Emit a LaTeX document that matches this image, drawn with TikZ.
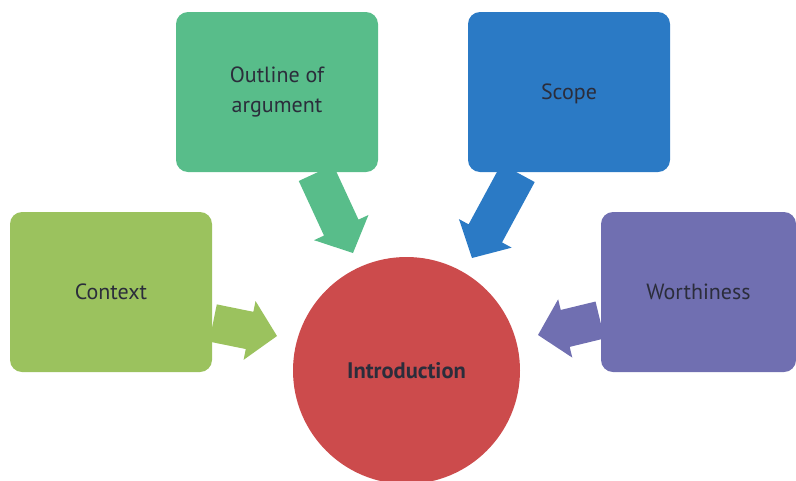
\documentclass[tikz,border=0pt]{standalone}
\usepackage{fontspec}
\setmainfont{PT Sans}
\usetikzlibrary{calc}

\definecolor{ctxgreen}{HTML}{9BC25E}
\definecolor{outgreen}{HTML}{58BD8A}
\definecolor{scpblue}{HTML}{2B7AC5}
\definecolor{worpurple}{HTML}{706FB1}
\definecolor{introred}{HTML}{CC4B4C}
\definecolor{txt}{HTML}{2B2D3B}

\tikzset{
	box/.style={rounded corners=12pt, minimum width=202pt, minimum height=160pt, inner sep=0pt, text=txt, align=center, font=\fontsize{22}{30}\selectfont}
}

% Block arrow from #1 to #2, filled with #3
\newcommand{\fatarrow}[3]{%
	\coordinate (hb) at ($(#2)!28pt!(#1)$);
	\fill[#3] ($(#1)!19pt!90:(#2)$) -- ($(hb)!19pt!90:(#2)$) -- ($(hb)!30pt!90:(#2)$) -- (#2)
		-- ($(hb)!30pt!-90:(#2)$) -- ($(hb)!19pt!-90:(#2)$) -- ($(#1)!19pt!-90:(#2)$) -- cycle;
}

\begin{document}
\begin{tikzpicture}[x=1pt, y=-1pt]
		\useasboundingbox (0,0) rectangle (796,480);
		\clip (0,0) rectangle (796,480);
		
		% Draw boxes
		\node[box, fill=ctxgreen] (Ctx) at (111,292) {Context};
		\node[box, fill=outgreen] (Out) at (277,92) {Outline of\\argument};
		\node[box, fill=scpblue, text depth=0pt] (Scp) at (569,92) {Scope};
		\node[box, fill=worpurple, minimum width=195pt] (Wor) at (698.5,292) {Worthiness};
		
		% Draw circle
		\node[circle, fill=introred, minimum size=227pt, text=txt, font=\fontsize{22.5}{30}\selectfont\bfseries] (Intro) at (406.5,370.5) {Introduction};
		
		% Define coordinates
		\coordinate (C1) at (213,323);
		\coordinate (C2) at (277,336);
		\coordinate (O1) at (316,173);
		\coordinate (O2) at (353,253);
		\coordinate (S1) at (518,173);
		\coordinate (S2) at (472,258);
		\coordinate (W1) at (600,320);
		\coordinate (W2) at (538,335);
		
		% Draw arrows
		\fatarrow{C1}{C2}{ctxgreen}
		\fatarrow{O1}{O2}{outgreen}
		\fatarrow{S1}{S2}{scpblue}
		\fatarrow{W1}{W2}{worpurple}
	\end{tikzpicture}
\end{document}
